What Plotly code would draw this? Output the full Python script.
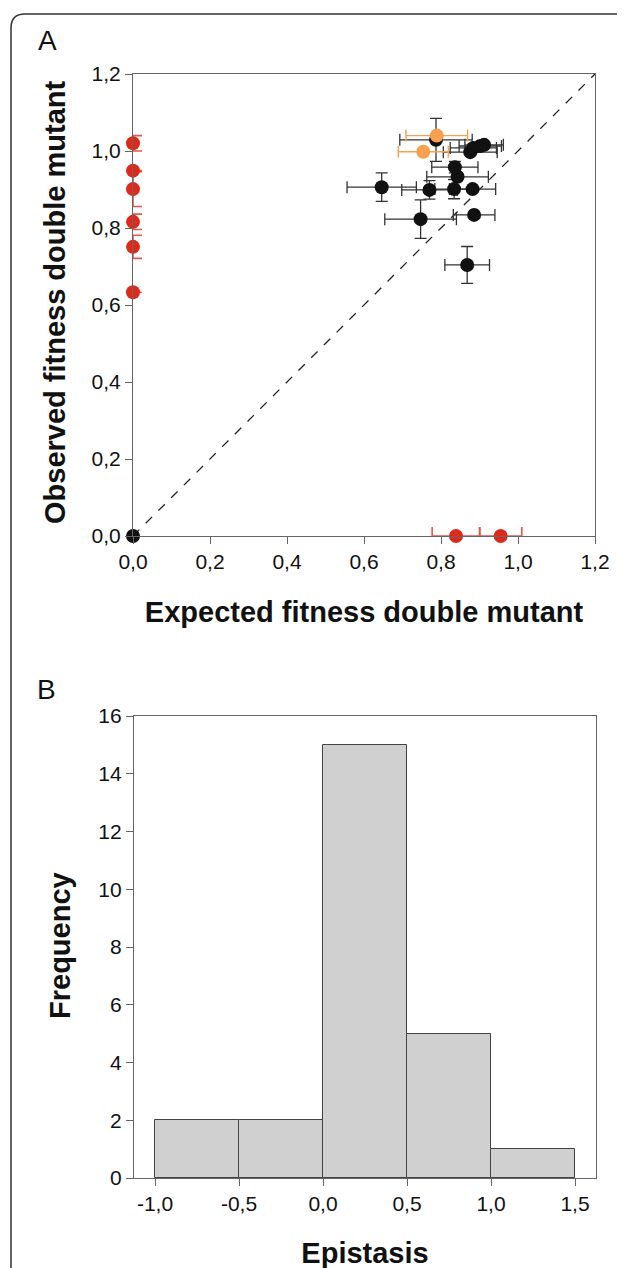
import plotly.graph_objects as go

# ---------------- Panel A data ----------------
black_x = [0.787, 0.876, 0.884, 0.902, 0.912, 0.836, 0.843, 0.646, 0.770, 0.834, 0.882, 0.747, 0.886, 0.868, 0.0]
black_y = [1.029, 0.997, 1.008, 1.013, 1.016, 0.958, 0.933, 0.906, 0.899, 0.901, 0.901, 0.823, 0.834, 0.704, 0.0]
black_xerr = [0.094, 0.07, 0.06, 0.055, 0.05, 0.06, 0.08, 0.09, 0.072, 0.05, 0.06, 0.093, 0.054, 0.058, 0.0]
black_yerr = [0.056, 0.0, 0.01, 0.0, 0.0, 0.015, 0.0, 0.037, 0.024, 0.025, 0.0, 0.05, 0.0, 0.048, 0.0]

orange_x = [0.789, 0.754]
orange_y = [1.040, 0.998]
orange_xerr = [0.08, 0.065]
orange_yerr = [0.0, 0.0]

red_y_axis_x = [0.0, 0.0, 0.0, 0.0, 0.0, 0.0]
red_y_axis_y = [1.020, 0.949, 0.901, 0.816, 0.751, 0.633]
red_y_axis_yerr = [0.02, 0.0, 0.045, 0.02, 0.03, 0.0]

red_x_axis_x = [0.839, 0.955]
red_x_axis_y = [0.0, 0.0]
red_x_axis_xerr = [0.062, 0.055]

a_ticks = [0.0, 0.2, 0.4, 0.6, 0.8, 1.0, 1.2]
a_ticktext = ["0,0", "0,2", "0,4", "0,6", "0,8", "1,0", "1,2"]

# ---------------- Panel B data ----------------
bin_edges = [-1.0, -0.5, 0.0, 0.5, 1.0, 1.5]
bin_counts = [2, 2, 15, 5, 1]
b_xticks = [-1.0, -0.5, 0.0, 0.5, 1.0, 1.5]
b_xticktext = ["-1,0", "-0,5", "0,0", "0,5", "1,0", "1,5"]
b_yticks = [0, 2, 4, 6, 8, 10, 12, 14, 16]

W, H = 625, 1268
OFF = 8  # page body margin
FONT = "Liberation Sans, Arial, sans-serif"
RED = "#dc2a1c"
RED_ERR = "#e8564a"
ORANGE = "#f7a04f"
BLACK = "#111111"
AXC = "#666666"

def px(x):
    return (x - OFF) / W

def py(y):
    return 1 - (y - OFF) / H

fig = go.Figure()

fig.add_trace(go.Scatter(
    x=black_x, y=black_y, mode="markers", xaxis="x", yaxis="y",
    marker=dict(size=14, color=BLACK),
    error_x=dict(type="data", array=black_xerr, color="#333333", thickness=1.3, width=6),
    error_y=dict(type="data", array=black_yerr, color="#333333", thickness=1.3, width=6),
    cliponaxis=False, showlegend=False,
))
fig.add_trace(go.Scatter(
    x=orange_x, y=orange_y, mode="markers", xaxis="x", yaxis="y",
    marker=dict(size=14, color=ORANGE),
    error_x=dict(type="data", array=orange_xerr, color=ORANGE, thickness=1.4, width=6),
    error_y=dict(type="data", array=orange_yerr, color=ORANGE, thickness=1.4, width=6),
    cliponaxis=False, showlegend=False,
))
fig.add_trace(go.Scatter(
    x=red_y_axis_x, y=red_y_axis_y, mode="markers", xaxis="x", yaxis="y",
    marker=dict(size=14, color=RED),
    error_y=dict(type="data", array=red_y_axis_yerr, color=RED_ERR, thickness=1.6, width=9),
    cliponaxis=False, showlegend=False,
))
fig.add_trace(go.Scatter(
    x=red_x_axis_x, y=red_x_axis_y, mode="markers", xaxis="x", yaxis="y",
    marker=dict(size=14, color=RED),
    error_x=dict(type="data", array=red_x_axis_xerr, color=RED_ERR, thickness=1.6, width=9),
    cliponaxis=False, showlegend=False,
))

centers = [(bin_edges[i] + bin_edges[i + 1]) / 2 for i in range(len(bin_counts))]
widths = [bin_edges[i + 1] - bin_edges[i] for i in range(len(bin_counts))]
fig.add_trace(go.Bar(
    x=centers, y=bin_counts, width=widths, xaxis="x2", yaxis="y2",
    marker=dict(color="#d0d0d0", line=dict(color="#444444", width=1)),
    showlegend=False,
))

axis_common = dict(
    showline=True, linecolor=AXC, linewidth=1.2, mirror=True,
    ticks="outside", ticklen=7, tickcolor=AXC, tickwidth=1,
    showgrid=False, zeroline=False, automargin=False,
    tickfont=dict(family=FONT, size=21, color="#111111"),
)
title_font = dict(family=FONT, size=29, color="#111111")

fig.update_layout(
    width=W, height=H, autosize=False,
    margin=dict(l=0, r=0, t=0, b=0, pad=0),
    paper_bgcolor="white", plot_bgcolor="white",
    xaxis=dict(domain=[px(133), px(595)], anchor="y", range=[0, 1.2],
               tickvals=a_ticks, ticktext=a_ticktext,
               title=dict(text="<b>Expected fitness double mutant</b>", font=title_font, standoff=29),
               **axis_common),
    yaxis=dict(domain=[py(536), py(74)], anchor="x", range=[0, 1.2],
               tickvals=a_ticks, ticktext=a_ticktext,
               **axis_common),
    xaxis2=dict(domain=[px(134), px(596)], anchor="y2", range=[-1.125, 1.625],
                tickvals=b_xticks, ticktext=b_xticktext,
                title=dict(text="<b>Epistasis</b>", font=title_font, standoff=28),
                **axis_common),
    yaxis2=dict(domain=[py(1178), py(716)], anchor="x2", range=[0, 16],
                tickvals=b_yticks,
                **axis_common),
    bargap=0,
)

# y-axis titles as rotated annotations
fig.add_annotation(text="<b>Observed fitness double mutant</b>", xref="paper", yref="paper",
                   x=px(55), y=py(303), xanchor="center", yanchor="middle", textangle=-90,
                   showarrow=False, font=title_font)
fig.add_annotation(text="<b>Frequency</b>", xref="paper", yref="paper",
                   x=px(60), y=py(946), xanchor="center", yanchor="middle", textangle=-90,
                   showarrow=False, font=title_font)

fig.add_shape(type="line", xref="x", yref="y", x0=0, y0=0, x1=1.2, y1=1.2,
              line=dict(color="#222222", width=1.3, dash="dash"), layer="below")

r = 14
x0b, y0b = 11, 14
path = (f"M {px(x0b)},{py(H + 20)} L {px(x0b)},{py(y0b + r)} "
        f"Q {px(x0b)},{py(y0b)} {px(x0b + r)},{py(y0b)} L {px(W + 20)},{py(y0b)}")
fig.add_shape(type="path", xref="paper", yref="paper", path=path,
              line=dict(color="#333333", width=1.5))

fig.add_annotation(text="A", xref="paper", yref="paper", x=px(36), y=py(41),
                   xanchor="left", yanchor="middle", showarrow=False,
                   font=dict(family=FONT, size=28, color="#111111"))
fig.add_annotation(text="B", xref="paper", yref="paper", x=px(35), y=py(689),
                   xanchor="left", yanchor="middle", showarrow=False,
                   font=dict(family=FONT, size=28, color="#111111"))

fig.write_html("out.html")
